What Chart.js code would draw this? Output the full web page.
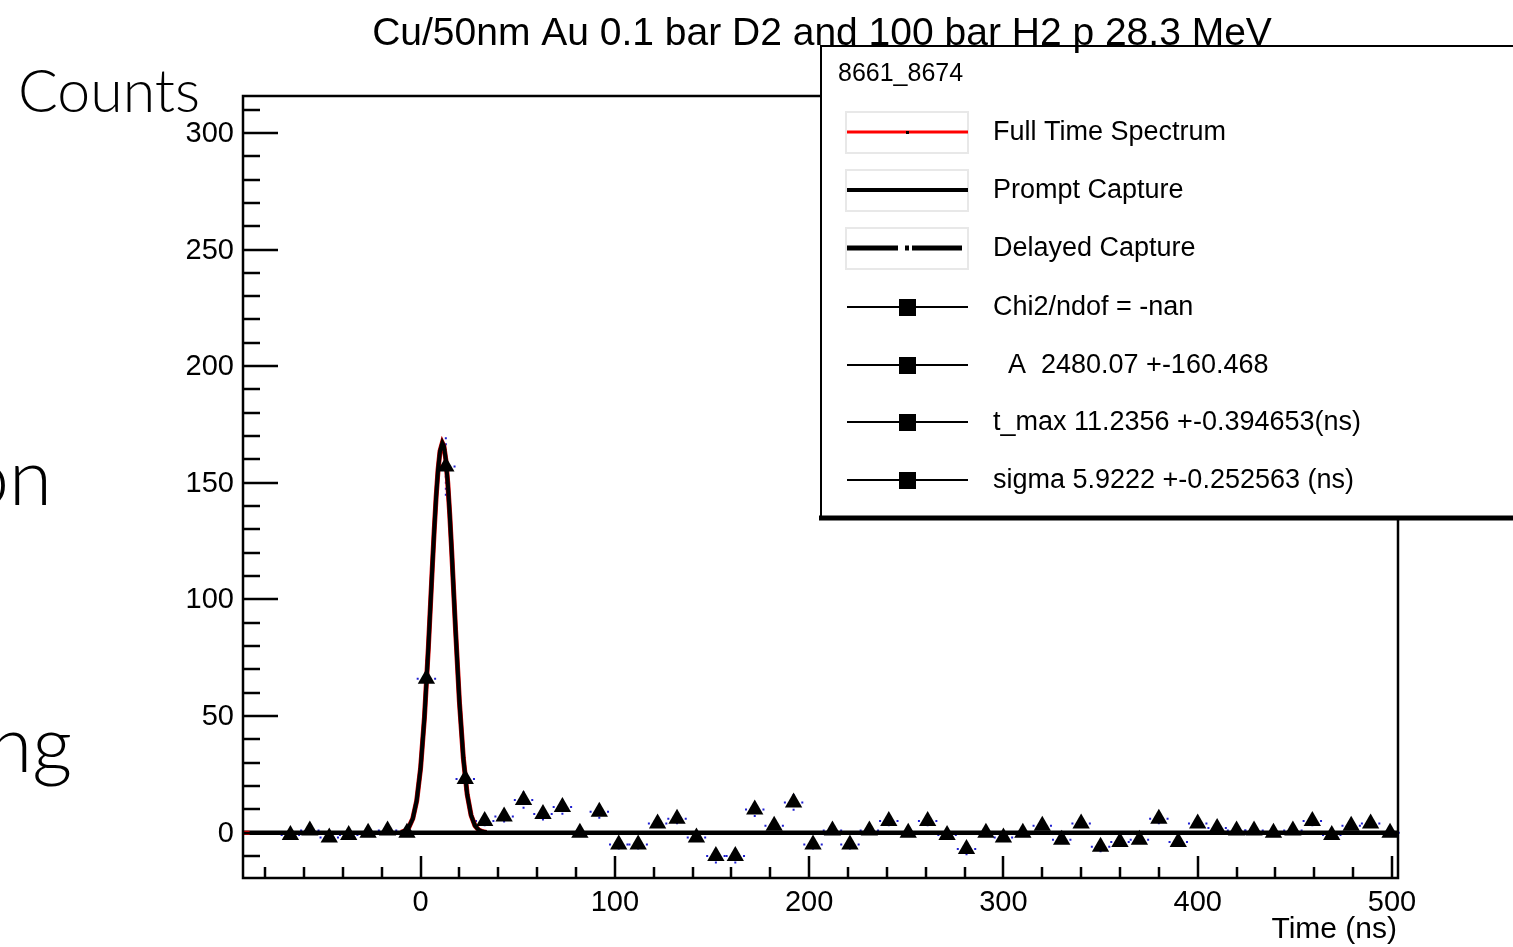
<!DOCTYPE html>
<html>
<head>
<meta charset="utf-8">
<script src="https://cdn.jsdelivr.net/npm/chart.js@4.4.1/dist/chart.umd.min.js"></script>
<style>
  html, body { margin: 0; padding: 0; background: #fff; }
  #wrap { position: relative; width: 1513px; height: 947px; }
</style>
</head>
<body>
<div id="wrap"><canvas id="timeChart"></canvas></div>
<script>
// bin centres (ns) and counts
var timeNs = [-67, -57, -47, -37, -27, -17, -7, 3, 13, 23,
    33, 43, 53, 63, 73, 82, 92, 102, 112, 122,
    132, 142, 152, 162, 172, 182, 192, 202, 212, 221,
    231, 241, 251, 261, 271, 281, 291, 300, 310, 320,
    330, 340, 350, 360, 370, 380, 390, 400, 410, 420,
    429, 439, 449, 459, 469, 479, 489, 499];
var counts = [-1, 1, -2, -1, 0, 1, 0, 66, 157, 23,
    5, 7, 14, 8, 11, 0, 9, -5, -5, 4,
    6, -2, -10, -10, 10, 3, 13, -5, 1, -5,
    1, 5, 0, 5, -1, -7, 0, -2, 0, 3,
    -3, 4, -6, -4, -3, 6, -4, 4, 2, 1,
    1, 0, 1, 5, -1, 3, 4, 0];
var countErr = [1, 1, 1.4, 1, 1, 1, 1, 8.1, 12.5, 4.8,
    2.2, 2.6, 3.7, 2.8, 3.3, 1, 3, 2.2, 2.2, 2,
    2.4, 1.4, 3.2, 3.2, 3.2, 1.7, 3.6, 2.2, 1, 2.2,
    1, 2.2, 1, 2.2, 1, 2.6, 1, 1.4, 1, 1.7,
    1.7, 2, 2.4, 2, 1.7, 2.4, 2, 2, 1.4, 1,
    1, 1, 1, 2.2, 1, 1.7, 2, 1];
var binHalfWidth = 5;

// prompt capture fit curve
var fitTime = [-10, -8, -6, -4, -2, 0, 2, 4, 6, 7, 8, 9, 10, 11.2, 12, 13, 14, 15, 16, 18, 20, 22, 24, 26, 28, 30, 32, 34];
var fitCounts = [0.2, 0.85, 2.4, 6.1, 13.7, 27.6, 49.5, 79.2, 113.0, 129.3, 143.9, 155.6, 163.5, 167.1, 165.7, 159.9, 149.9, 136.6, 121.0, 87.1, 56.0, 32.1, 16.4, 7.5, 3.0, 1.1, 0.4, 0.1];
var baseTime = [-91.4, 503.1];
var baseCounts = [0, 0];

var xTickValues = [0, 100, 200, 300, 400, 500];
var xTickLabels = ["0", "100", "200", "300", "400", "500"];
var yTickValues = [0, 50, 100, 150, 200, 250, 300];
var yTickLabels = ["0", "50", "100", "150", "200", "250", "300"];

var titleText = "Cu/50nm Au 0.1 bar D2 and 100 bar H2 p 28.3 MeV";
var legendHeader = "8661_8674";
var legendTexts = ["Full Time Spectrum", "Prompt Capture", "Delayed Capture",
    "Chi2/ndof = -nan", "  A  2480.07 +-160.468", "t_max 11.2356 +-0.394653(ns)", "sigma 5.9222 +-0.252563 (ns)"];

function pts(xs, ys) {
    return xs.map(function (v, i) { return { x: v, y: ys[i] }; });
}

var rootFont = '"Liberation Sans", Arial, Helvetica, sans-serif';
var slideFont = 'Lato, "Open Sans", sans-serif';

// blue dotted error bars behind the markers
var errorBars = {
    id: "errorBars",
    beforeDatasetsDraw: function (chart) {
        var ctx = chart.ctx, xs = chart.scales.x, ys = chart.scales.y;
        ctx.save();
        ctx.strokeStyle = "#1f1fd0";
        ctx.lineWidth = 2;
        ctx.setLineDash([2, 4]);
        timeNs.forEach(function (t, i) {
            var px = xs.getPixelForValue(t), py = ys.getPixelForValue(counts[i]);
            var l = xs.getPixelForValue(t - binHalfWidth), r = xs.getPixelForValue(t + binHalfWidth);
            var top = ys.getPixelForValue(counts[i] + countErr[i]), bot = ys.getPixelForValue(counts[i] - countErr[i]);
            ctx.beginPath();
            ctx.moveTo(l, py); ctx.lineTo(px, py);
            ctx.moveTo(r, py); ctx.lineTo(px, py);
            ctx.moveTo(px, top); ctx.lineTo(px, py);
            ctx.moveTo(px, bot); ctx.lineTo(px, py);
            ctx.stroke();
        });
        ctx.restore();
    }
};

var rootFrame = {
    id: "rootFrame",
    afterDraw: function (chart) {
        var ctx = chart.ctx, a = chart.chartArea, xs = chart.scales.x, ys = chart.scales.y;
        ctx.save();
        ctx.strokeStyle = "#000";
        ctx.fillStyle = "#000";
        ctx.lineWidth = 2.5;
        ctx.setLineDash([]);
        ctx.strokeRect(a.left, a.top, a.right - a.left, a.bottom - a.top);

        // ticks inside the frame
        ctx.beginPath();
        for (var v = -10; v <= 310; v += 10) {
            var py = Math.round(ys.getPixelForValue(v));
            ctx.moveTo(a.left, py);
            ctx.lineTo(a.left + (v % 50 === 0 ? 35 : 17), py);
        }
        for (var t = -80; t <= 500; t += 20) {
            var px = Math.round(xs.getPixelForValue(t));
            ctx.moveTo(px, a.bottom);
            ctx.lineTo(px, a.bottom - (t % 100 === 0 ? 22 : 11));
        }
        ctx.stroke();

        ctx.font = "29px " + rootFont;
        ctx.textAlign = "right";
        ctx.textBaseline = "middle";
        yTickValues.forEach(function (v, i) {
            ctx.fillText(yTickLabels[i], a.left - 9, ys.getPixelForValue(v) + 1);
        });
        ctx.textAlign = "center";
        ctx.textBaseline = "top";
        xTickValues.forEach(function (v, i) {
            ctx.fillText(xTickLabels[i], xs.getPixelForValue(v), a.bottom + 10);
        });
        ctx.textAlign = "right";
        ctx.textBaseline = "middle";
        ctx.font = "30px " + rootFont;
        ctx.fillText("Time (ns)", a.right - 1, 930);

        // legend box
        ctx.fillStyle = "#fff";
        ctx.fillRect(821, 46, 700, 472);
        ctx.fillStyle = "#000";
        ctx.lineWidth = 2;
        ctx.beginPath();
        ctx.moveTo(821, 520); ctx.lineTo(821, 46); ctx.lineTo(1513, 46);
        ctx.stroke();
        ctx.lineWidth = 5;
        ctx.beginPath();
        ctx.moveTo(819, 518); ctx.lineTo(1513, 518);
        ctx.stroke();

        ctx.textAlign = "left";
        ctx.font = "25px " + rootFont;
        ctx.fillText(legendHeader, 838, 74);

        var rows = [132, 190, 248, 307, 365, 422, 480];
        ctx.strokeStyle = "#e8e8e8";
        ctx.lineWidth = 2;
        for (var k = 0; k < 3; k++) {
            ctx.strokeRect(846, rows[k] - 20, 122, 41);
        }
        ctx.strokeStyle = "#ff0000";
        ctx.lineWidth = 3;
        ctx.beginPath(); ctx.moveTo(847, rows[0]); ctx.lineTo(968, rows[0]); ctx.stroke();
        ctx.fillRect(906, rows[0] - 1, 3, 3);
        ctx.strokeStyle = "#000";
        ctx.lineWidth = 4;
        ctx.beginPath(); ctx.moveTo(847, rows[1]); ctx.lineTo(968, rows[1]); ctx.stroke();
        ctx.lineWidth = 5;
        ctx.beginPath();
        ctx.moveTo(847, rows[2]); ctx.lineTo(898, rows[2]);
        ctx.moveTo(905, rows[2]); ctx.lineTo(909, rows[2]);
        ctx.moveTo(912, rows[2]); ctx.lineTo(962, rows[2]);
        ctx.stroke();
        ctx.lineWidth = 2;
        for (var m = 3; m < 7; m++) {
            ctx.beginPath(); ctx.moveTo(847, rows[m]); ctx.lineTo(968, rows[m]); ctx.stroke();
            ctx.fillRect(899, rows[m] - 8, 17, 17);
        }
        ctx.font = "27px " + rootFont;
        legendTexts.forEach(function (s, i) {
            ctx.fillText(s, 993, rows[i] + 1);
        });

        // title, over the legend edge
        ctx.textAlign = "center";
        ctx.textBaseline = "alphabetic";
        ctx.font = "39px " + rootFont;
        ctx.fillText(titleText, 822, 45);

        // slide text around the plot
        ctx.textAlign = "left";
        ctx.font = "300 59px " + slideFont;
        ctx.fillText("Counts", 18, 112);
        ctx.textAlign = "right";
        ctx.font = "300 78px " + slideFont;
        ctx.fillText("on", 52, 505);
        ctx.fillText("ng", 72, 772);
        ctx.restore();
    }
};

var ctx = document.getElementById("timeChart");
var timeChart = new Chart(ctx, {
    type: "scatter",
    data: {
        datasets: [{
            label: "data",
            data: pts(timeNs, counts),
            pointStyle: "triangle",
            pointRadius: 10,
            pointHoverRadius: 10,
            pointBackgroundColor: "#000",
            pointBorderWidth: 0,
            showLine: false,
            order: 0,
        }, {
            label: "full spectrum edge",
            data: pts([-91.4, -88], [0, 0]),
            showLine: true,
            borderColor: "#ff0000",
            borderWidth: 4,
            pointRadius: 0,
            order: 1,
        }, {
            label: "Prompt Capture",
            data: pts(fitTime, fitCounts),
            showLine: true,
            borderColor: "#000",
            borderWidth: 4,
            pointRadius: 0,
            order: 2,
        }, {
            label: "Delayed Capture",
            data: pts(baseTime, baseCounts),
            showLine: true,
            borderColor: "#000",
            borderWidth: 4.5,
            pointRadius: 0,
            order: 3,
        }, {
            label: "Full Time Spectrum",
            data: pts(fitTime, fitCounts),
            showLine: true,
            borderColor: "#d00000",
            borderWidth: 5,
            pointRadius: 0,
            order: 4,
        }],
    },
    options: {
        responsive: true,
        maintainAspectRatio: false,
        devicePixelRatio: 1,
        animation: false,
        layout: { padding: { left: 243, right: 115, top: 96, bottom: 69 } },
        scales: {
            x: { type: "linear", min: -91.4, max: 503.1, display: false },
            y: { type: "linear", min: -19.4, max: 315.8, display: false },
        },
        plugins: {
            legend: { display: false },
            tooltip: { enabled: false },
            title: { display: false },
        },
    },
    plugins: [errorBars, rootFrame],
});
</script>
</body>
</html>
